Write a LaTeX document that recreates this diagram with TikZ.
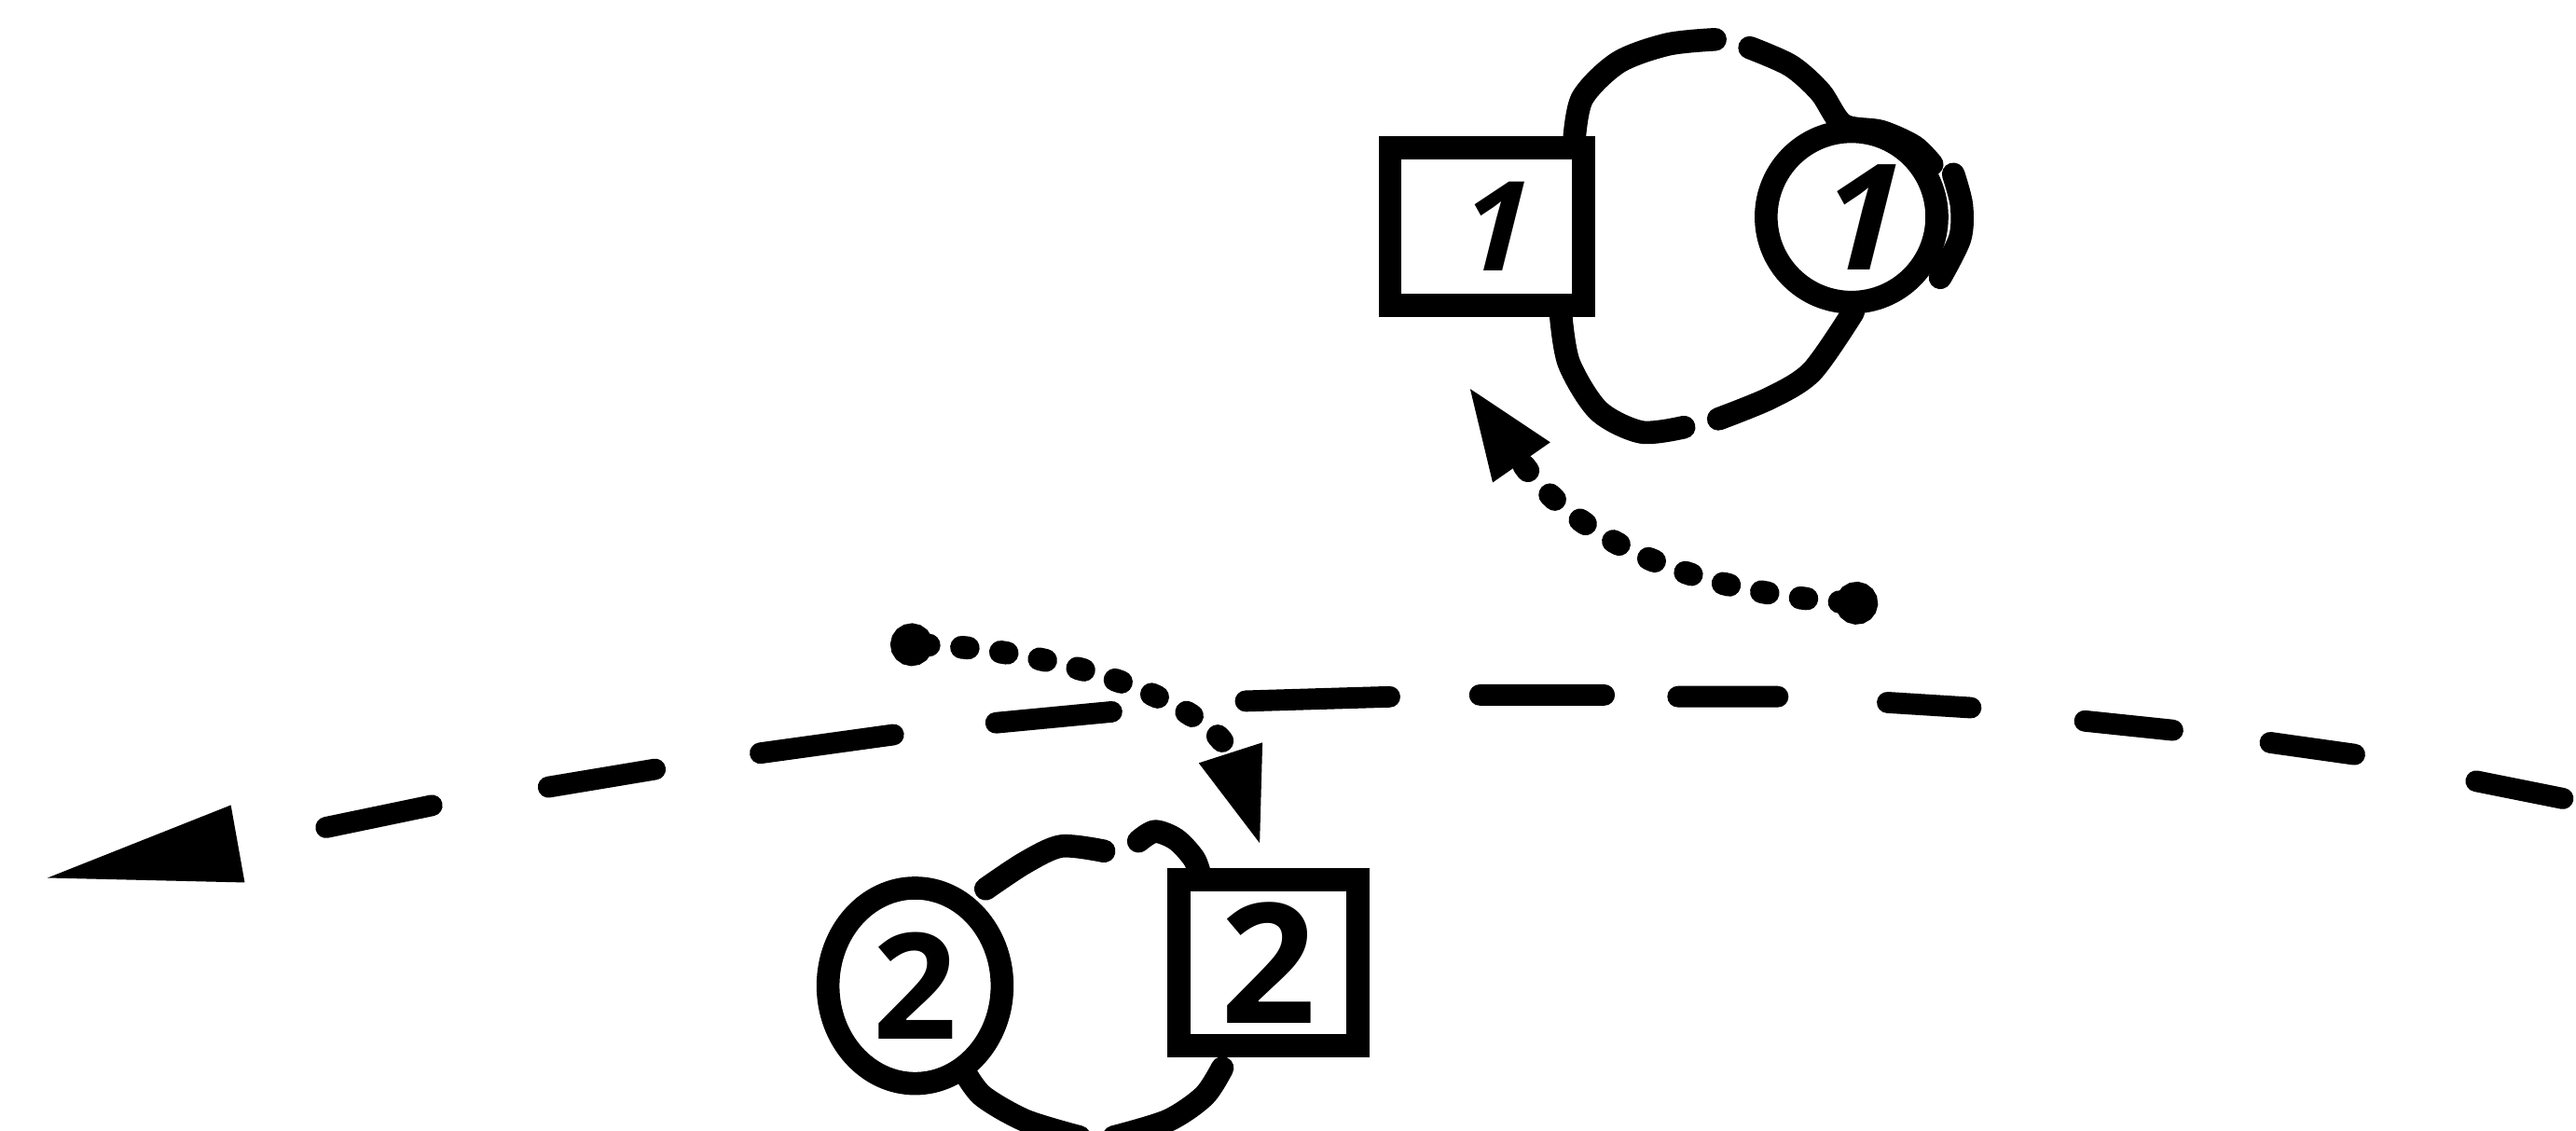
\documentclass[tikz,border=0pt]{standalone}
\usepackage{fontspec}
\setmainfont{Open Sans}
\newfontfamily\slantfont{Open Sans}[FakeSlant=0.25]
\usetikzlibrary{arrows.meta,shapes.geometric}
\begin{document}
\begin{tikzpicture}[x=0.01762cm, y=-0.01762cm,
  ink/.style={line width=7pt, line cap=round, line join=round},
  shapebox/.style={draw, rectangle, line width=7pt, inner sep=0pt},
  shapecirc/.style={draw, circle, line width=7pt, inner sep=0pt},
  shapeoval/.style={draw, ellipse, line width=7pt, inner sep=0pt},
  dashline/.style={line width=6.5pt, line cap=round, line join=round,
    dash pattern=on 27pt off 38pt on 26pt off 30pt on 27pt off 35pt
      on 25.5pt off 33.5pt on 30.5pt off 22.5pt on 38pt off 27.5pt
      on 44pt off 41pt on 35.5pt off 31.5pt on 41pt off 32.5pt
      on 33pt off 36pt on 33pt off 200pt},
  dotline/.style={line width=7pt, line cap=round, dash pattern=on 2pt off 10pt}
]
\fill[white] (0,0) rectangle (1568,688);
\useasboundingbox (0,0) rectangle (1568,688);

% top group
\node[shapebox, minimum width=2.079cm, minimum height=1.692cm] (sqA) at (905,138)
  {\fontsize{38}{38}\selectfont\bfseries\slantfont 1};
\node[shapecirc, minimum size=1.832cm] (ciA) at (1127,132)
  {\fontsize{45}{45}\selectfont\bfseries\slantfont 1};
\draw[ink] plot[smooth] coordinates {(958,88) (963,60) (985,38) (1015,27) (1044,24)};
\draw[ink] plot[smooth] coordinates {(1065,29) (1090,40) (1108,56) (1122,76) (1145,80) (1165,89) (1176,100)};
\draw[ink] plot[smooth] coordinates {(1189,106) (1194,125) (1193,145) (1181,169)};
\draw[ink] plot[smooth] coordinates {(950,191) (955,221) (973,250) (999,263) (1025,260)};
\draw[ink] plot[smooth] coordinates {(1046,255) (1078,242) (1103,226) (1128,190)};

% bottom group
\node[shapeoval, minimum width=1.868cm, minimum height=2.097cm] (ciB) at (557,600)
  {\fontsize{45}{45}\selectfont\bfseries 2};
\node[shapebox, minimum width=1.921cm, minimum height=1.780cm] (sqB) at (772,586)
  {\fontsize{51}{51}\selectfont\bfseries 2};
\draw[ink] plot[smooth] coordinates {(600,541) (624,525) (646,515) (672,518)};
\draw[ink] plot[smooth] coordinates {(693,512) (703,506) (716,511) (727,523) (731,535)};
\draw[ink] plot[smooth] coordinates {(587,652) (598,667) (624,682) (657,692)};
\draw[ink] plot[smooth] coordinates {(678,692) (711,682) (733,667) (744,650)};

% dotted arrows
\coordinate (tA0) at (1143,368);
\coordinate (tA1) at (893,234);
\draw[dotline, {Circle[length=13pt]}-{Triangle[length=29pt,width=19pt]}]
  (tA0) .. controls (1030,360) and (960,330) .. (tA1);
\coordinate (bA0) at (542,392);
\coordinate (bA1) at (768,517);
\draw[dotline, {Circle[length=13pt]}-{Triangle[length=31pt,width=18pt]}]
  (bA0) .. controls (650,395) and (740,430) .. (bA1);

% long dashed arrow
\coordinate (lnR) at (1560,486);
\coordinate (lnL) at (25,535);
\draw[dashline, -{Triangle[length=61pt,width=22pt]}]
  (lnR) -- (1500,474) -- (1439,460) -- (1375,451) -- (1328,445) -- (1261,438)
  -- (1204,431) -- (1140,427) -- (1086,424) -- (1012,424) -- (980,423)
  -- (891,423) -- (849,424) -- (748,427) -- (679,433) -- (595,441)
  -- (545,447) -- (451,460) -- (400,468) -- (322,481) -- (264,490)
  -- (187,506) -- (lnL);
\end{tikzpicture}
\end{document}
